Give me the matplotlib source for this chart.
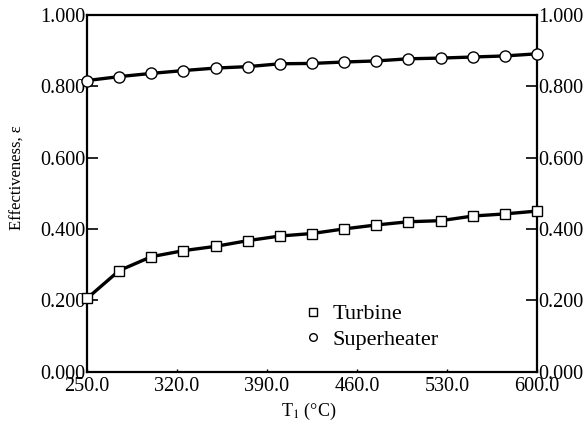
import matplotlib
matplotlib.use('Agg')
import matplotlib.pyplot as plt
from matplotlib.ticker import FormatStrFormatter

plt.rcParams['font.family'] = ['Liberation Serif', 'DejaVu Serif']
plt.rcParams['mathtext.fontset'] = 'stix'

# temperatures, °C
temps = [250, 275, 300, 325, 350, 375, 400, 425, 450, 475, 500, 525, 550, 575, 600]
turbine = [0.205, 0.283, 0.322, 0.339, 0.351, 0.367, 0.380, 0.387, 0.400,
           0.411, 0.420, 0.423, 0.436, 0.442, 0.450]
superheater = [0.816, 0.827, 0.836, 0.844, 0.851, 0.855, 0.863, 0.864, 0.868,
               0.871, 0.877, 0.879, 0.882, 0.885, 0.891]
x_ticks = [250, 320, 390, 460, 530, 600]
y_ticks = [0.0, 0.2, 0.4, 0.6, 0.8, 1.0]

fig = plt.figure(figsize=(5.86, 4.23), dpi=100)
ax = fig.add_axes([0.1485, 0.1217, 0.768, 0.843])

ax.plot(temps, turbine, color='black', lw=2.4, marker='s', ms=7.5,
        mfc='white', mec='black', mew=1.0, clip_on=False, zorder=3)
ax.plot(temps, superheater, color='black', lw=2.4, marker='o', ms=8,
        mfc='white', mec='black', mew=1.0, clip_on=False, zorder=3)

# legend: markers only
h1, = ax.plot([], [], ls='none', marker='s', ms=5.5, mfc='white', mec='black', mew=1.0)
h2, = ax.plot([], [], ls='none', marker='o', ms=5.5, mfc='white', mec='black', mew=1.0)
ax.legend([h1, h2], ['Turbine', 'Superheater'], loc='upper left',
          bbox_to_anchor=(0.488, 0.19), frameon=False, fontsize=16,
          handlelength=0.6, handletextpad=0.55, labelspacing=0.23,
          borderpad=0, borderaxespad=0)

ax.set_xlim(250, 600)
ax.set_ylim(0, 1.0)
ax.set_xticks(x_ticks)
ax.set_yticks(y_ticks)
ax.xaxis.set_major_formatter(FormatStrFormatter('%.1f'))
ax.yaxis.set_major_formatter(FormatStrFormatter('%.3f'))
ax.tick_params(axis='y', direction='in', length=8, width=1.2, labelsize=14.5,
               right=True, labelright=True, pad=1)
ax.tick_params(axis='x', direction='in', length=2, width=1, labelsize=14.5, pad=4)
for s in ax.spines.values():
    s.set_linewidth(1.6)

ax.set_xlabel('T$_1$ (°C)', fontsize=13)
ax.set_ylabel('Effectiveness, ε', fontsize=12)
ax.xaxis.set_label_coords(0.493, -0.083)
ax.yaxis.set_label_coords(-0.136, 0.543)

fig.savefig('out.png', dpi=100)
